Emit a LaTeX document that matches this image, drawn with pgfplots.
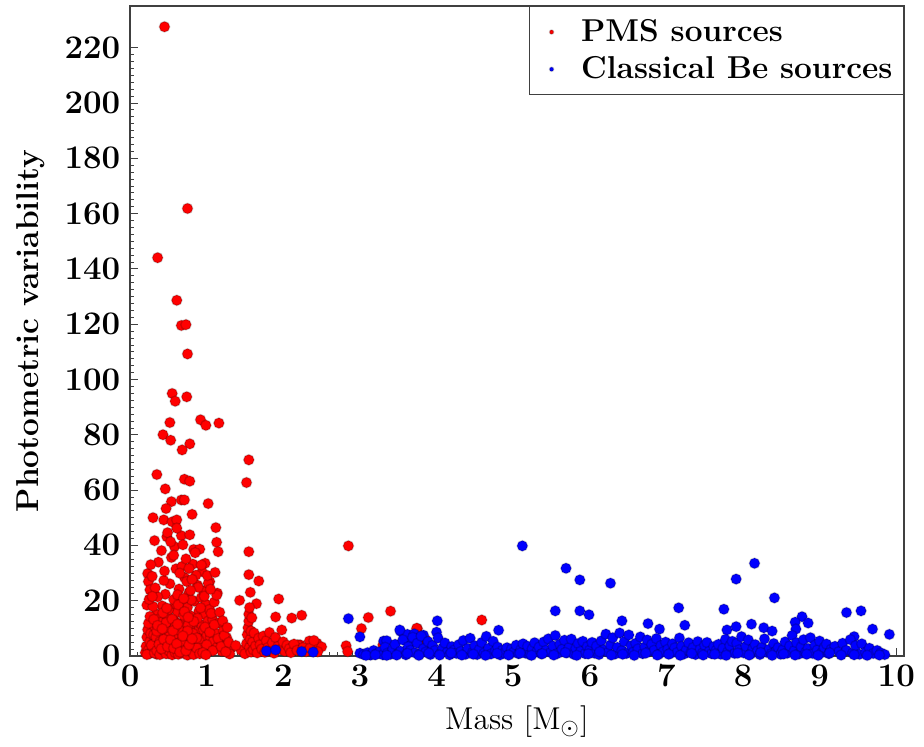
\documentclass[border=0pt]{standalone}
\usepackage{pgfplots}
\usepackage{pgfplotstable}
\pgfplotsset{compat=1.18}

\pgfplotstableread{
x y
0.45 227.5
0.75 161.8
0.36 144.0
0.61 128.6
0.67 119.5
0.73 119.8
0.75 109.2
0.55 94.9
0.59 92.1
0.74 93.7
0.52 84.4
0.92 85.4
0.99 83.4
1.16 84.2
0.43 80.0
0.53 78.0
0.78 76.7
0.68 74.5
1.55 70.9
1.52 62.7
0.35 65.6
0.71 63.9
0.78 63.2
0.46 60.4
0.54 55.8
0.47 53.3
0.67 56.4
0.71 56.4
1.02 55.1
0.30 50.0
0.44 49.2
0.55 48.5
0.61 49.2
0.81 51.2
1.12 46.4
0.67 43.5
0.78 43.8
0.32 41.7
0.48 43.1
1.13 41.1
1.15 37.7
1.55 37.7
0.58 39.5
0.83 38.5
0.91 38.6
0.98 33.5
0.94 30.5
1.04 26.9
0.23 29.8
0.24 26.9
0.26 23.9
1.55 29.4
1.68 27.1
1.43 20.1
1.65 18.9
1.94 20.6
1.90 14.1
0.22 18.4
1.14 22.7
1.32 2.8
2.85 39.8
2.11 13.7
2.24 14.7
3.11 13.9
3.40 16.2
3.02 9.9
3.75 9.9
3.74 10.0
2.82 3.7
2.84 1.6
2.34 5.4
2.44 4.6
2.50 3.3
2.22 4.0
2.19 4.0
4.59 13.0
3.86 5.8
3.30 4.0
3.85 3.5
4.75 3.0
4.60 1.5
5.90 3.0
6.05 4.5
6.10 3.8
0.20 1.2
0.21 3.5
0.22 6.8
0.23 9.5
0.24 2.1
0.25 0.8
0.26 5.2
0.27 8.1
0.28 12.3
0.29 1.5
0.30 4.4
0.31 7.6
0.32 10.8
0.33 2.9
0.34 15.2
0.35 0.6
0.36 3.8
0.37 6.1
0.38 9.2
0.39 13.5
0.40 1.9
0.41 4.9
0.42 18.1
0.43 7.3
0.44 11.4
0.45 2.4
0.46 22.3
0.47 5.6
0.48 8.7
0.49 14.6
0.50 0.9
0.51 3.2
0.52 26.1
0.53 10.1
0.54 17.2
0.55 6.4
0.56 1.6
0.57 20.4
0.58 12.8
0.59 4.1
0.60 31.5
0.61 8.3
0.62 15.9
0.63 2.6
0.64 24.2
0.65 6.9
0.66 11.7
0.67 1.1
0.68 19.3
0.69 4.6
0.70 9.8
0.71 28.4
0.72 13.9
0.73 3.3
0.74 7.5
0.75 17.6
0.76 1.8
0.77 22.9
0.78 5.1
0.79 10.6
0.80 14.4
0.81 2.3
0.82 33.2
0.83 7.9
0.84 19.8
0.85 4.2
0.86 12.2
0.87 1.4
0.88 25.6
0.89 8.8
0.90 16.3
0.91 3.6
0.92 6.2
0.93 21.1
0.94 11.1
0.95 2.0
0.96 9.4
0.97 14.9
0.98 4.8
0.99 18.7
1.00 7.1
1.01 1.3
1.02 12.6
1.03 3.9
1.04 16.8
1.05 6.6
1.06 9.9
1.07 2.5
1.08 13.1
1.09 5.4
1.10 19.5
1.12 8.2
1.14 3.1
1.16 11.9
1.18 5.9
1.20 1.7
1.22 9.1
1.24 4.3
1.26 6.7
1.28 2.2
1.30 0.7
0.22 0.5
0.24 11.8
0.26 14.3
0.28 3.9
0.30 17.9
0.32 1.1
0.34 6.8
0.36 21.4
0.38 2.7
0.40 12.1
0.42 5.3
0.44 27.3
0.46 9.6
0.48 1.3
0.50 16.7
0.52 4.5
0.54 35.6
0.56 12.4
0.58 7.7
0.60 2.1
0.62 22.1
0.64 9.3
0.66 3.7
0.68 32.4
0.70 14.7
0.72 6.0
0.74 26.9
0.76 11.2
0.78 3.0
0.80 20.3
0.82 8.1
0.84 1.0
0.86 29.2
0.88 13.6
0.90 5.7
0.92 17.4
0.94 2.8
0.96 23.5
0.98 10.4
1.00 4.0
1.02 26.3
1.04 8.6
1.06 15.4
1.08 1.9
1.10 11.3
1.13 22.0
1.15 6.3
1.17 15.8
1.19 3.4
1.21 12.7
1.23 7.4
1.25 1.5
1.27 10.3
1.29 4.9
0.25 20.5
0.29 28.8
0.33 24.6
0.37 33.9
0.41 38.1
0.45 30.7
0.49 44.6
0.53 41.3
0.57 36.4
0.61 46.2
0.65 29.9
0.69 40.2
0.73 35.1
0.77 31.6
0.81 27.7
0.85 37.3
0.89 24.8
0.93 32.9
0.97 21.6
1.01 29.1
1.05 24.1
1.11 30.2
0.35 1.9
0.39 0.5
0.43 2.2
0.47 0.8
0.51 1.8
0.55 0.4
0.59 1.2
0.63 0.6
0.67 2.4
0.71 0.9
0.75 0.3
0.79 1.6
0.83 0.5
0.87 2.9
0.91 0.8
0.95 1.2
0.99 0.4
0.31 13.2
0.35 9.0
0.39 5.1
0.43 15.6
0.47 12.0
0.51 7.0
0.55 13.3
0.59 10.5
0.63 18.5
0.67 5.4
0.71 16.0
0.75 9.0
0.79 23.7
0.83 12.5
0.87 6.5
0.38 4.2
0.41 2.6
0.44 6.0
0.49 3.4
0.53 5.9
0.57 2.8
0.61 4.4
0.65 1.4
0.69 7.2
0.73 1.9
0.77 4.0
0.81 6.2
0.36 11.0
0.42 9.8
0.48 17.3
0.56 9.1
0.62 11.5
0.70 20.8
0.76 14.0
0.29 21.5
0.27 33.0
1.45 2.0
1.50 0.8
1.52 4.5
1.53 7.7
1.54 10.2
1.55 12.6
1.55 15.1
1.56 3.1
1.56 17.5
1.57 6.1
1.57 23.0
1.58 1.4
1.58 9.0
1.59 13.8
1.60 5.0
1.61 2.2
1.62 8.3
1.64 3.6
1.66 1.1
1.68 6.4
1.70 4.1
1.72 2.5
1.74 7.2
1.76 1.3
1.78 5.5
1.80 3.0
1.82 8.5
1.84 2.0
1.86 4.8
1.88 1.0
1.90 6.7
1.93 3.4
1.96 2.3
1.98 9.4
2.00 5.1
2.02 1.7
2.05 3.9
2.08 2.6
2.10 1.2
2.14 4.3
2.18 2.0
2.26 3.0
2.30 1.6
2.35 2.8
2.40 5.6
2.45 1.5
1.38 3.8
}\pmsdata

\pgfplotstableread{
x y
2.85 13.5
3.00 6.9
3.53 8.9
3.31 5.4
5.12 39.8
5.69 31.7
5.87 27.5
6.27 26.3
5.55 16.3
5.87 16.3
5.99 14.9
4.01 12.7
4.81 9.3
6.42 12.7
6.76 11.7
6.91 9.7
8.15 33.5
7.91 27.8
8.41 21.0
7.16 17.4
7.75 16.9
9.35 15.7
9.54 16.3
7.24 11.1
9.69 9.7
9.91 7.8
8.11 11.5
8.27 10.2
8.38 9.0
8.77 14.2
8.68 12.2
8.85 11.9
8.69 9.7
7.79 9.4
7.91 10.6
9.45 7.0
1.78 1.8
1.90 2.2
2.24 1.6
2.39 1.4
3.00 1.0
3.62 7.8
3.68 5.0
3.71 8.0
3.76 6.2
3.83 7.5
3.88 4.0
3.35 5.5
3.52 9.4
3.05 0.5
3.10 1.2
3.14 0.3
3.18 2.0
3.22 0.8
3.26 1.5
3.30 0.4
3.33 3.1
3.36 1.0
3.40 0.6
3.43 2.4
3.46 4.2
3.50 0.9
3.53 1.7
3.56 5.8
3.60 0.4
3.63 3.3
3.66 2.0
3.69 6.7
3.72 1.1
3.75 4.6
3.78 0.7
3.80 7.2
3.83 2.6
3.86 1.4
3.89 5.2
3.92 0.5
3.95 3.8
3.98 1.9
4.00 8.6
4.02 6.5
4.05 0.8
4.08 2.9
4.11 4.7
4.14 1.3
4.17 0.4
4.20 3.4
4.23 2.1
4.26 0.9
4.29 4.1
4.32 1.6
4.35 5.6
4.38 0.6
4.41 2.7
4.44 6.4
4.47 1.2
4.50 3.7
4.53 0.5
4.56 2.3
4.59 4.9
4.62 1.0
4.65 7.1
4.68 2.8
4.71 0.7
4.74 5.3
4.77 1.8
4.80 3.2
4.83 0.4
4.86 2.0
4.89 1.1
4.92 3.0
4.95 0.6
4.98 2.5
5.01 1.4
5.04 3.9
5.07 0.8
5.10 2.2
5.13 4.4
5.16 1.0
5.19 3.5
5.22 0.5
5.25 2.6
5.28 4.8
5.31 1.5
5.34 3.2
5.37 0.7
5.40 5.1
5.43 2.0
5.46 6.2
5.49 1.2
5.52 3.6
5.55 7.4
5.58 0.9
5.61 4.3
5.64 2.4
5.67 5.7
5.70 1.1
5.73 3.0
5.76 6.1
5.79 0.6
5.82 2.7
5.85 4.5
5.88 1.6
5.91 5.3
5.94 0.8
5.97 3.4
6.00 2.1
6.03 4.9
6.06 1.0
6.09 3.6
6.12 0.5
6.15 5.5
6.18 2.2
6.21 7.9
6.24 1.3
6.27 4.0
6.30 6.6
6.33 0.7
6.36 3.1
6.39 8.3
6.42 1.9
6.45 5.2
6.48 0.9
6.51 7.6
6.54 3.7
6.57 1.4
6.60 4.6
6.63 2.5
6.66 6.9
6.69 0.8
6.72 3.3
6.75 5.8
6.78 1.7
6.81 4.2
6.84 2.0
6.87 6.3
6.90 0.6
6.93 3.8
6.96 1.5
6.99 5.0
7.02 2.4
7.05 0.9
7.08 4.4
7.11 2.9
7.14 1.2
7.17 6.5
7.20 3.5
7.23 0.7
7.26 2.1
7.29 4.8
7.32 1.3
7.35 3.0
7.38 0.5
7.41 5.2
7.44 2.3
7.47 1.0
7.50 3.9
7.53 4.9
7.56 1.6
7.59 0.8
7.62 3.4
7.65 2.0
7.68 4.2
7.71 0.6
7.74 2.8
7.77 6.0
7.80 1.4
7.83 3.7
7.86 5.3
7.89 0.9
7.92 4.6
7.95 2.2
7.98 7.0
8.01 1.1
8.04 3.5
8.07 5.8
8.10 0.7
8.13 2.6
8.16 4.1
8.19 1.8
8.22 0.5
8.25 3.2
8.28 6.2
8.31 1.3
8.34 2.4
8.37 0.8
8.40 4.5
8.43 1.6
8.46 3.0
8.49 0.6
8.52 2.2
8.55 5.1
8.58 1.0
8.61 3.6
8.64 7.4
8.67 1.9
8.70 4.8
8.73 0.7
8.76 3.3
8.79 5.9
8.82 1.4
8.85 2.7
8.88 6.6
8.91 0.9
8.94 3.9
8.97 2.1
9.00 5.4
9.03 1.2
9.06 3.0
9.09 4.3
9.12 0.8
9.15 2.4
9.20 3.5
9.25 1.5
9.30 4.6
9.35 2.0
9.40 5.9
9.43 1.0
9.47 3.7
9.52 0.6
9.55 4.4
9.60 1.3
9.65 2.8
9.70 0.9
9.75 2.0
9.80 1.1
9.85 0.5
3.08 0.2
3.20 0.4
3.35 0.2
3.48 0.3
3.62 0.9
3.77 0.2
3.90 1.0
4.04 0.3
4.19 1.1
4.33 0.3
4.48 0.6
4.64 0.2
4.79 0.9
4.94 0.3
5.09 1.0
5.24 0.2
5.38 0.8
5.53 0.3
5.68 1.2
5.83 0.2
5.98 0.7
6.13 1.5
6.28 0.3
6.43 0.6
6.58 0.2
6.73 1.0
6.88 0.3
7.03 0.6
7.18 0.2
7.33 0.9
7.48 0.3
7.63 0.6
7.78 0.2
7.93 1.0
8.08 0.3
8.23 1.2
8.38 0.2
8.53 0.7
8.68 0.3
8.83 0.6
8.98 0.2
9.13 1.1
9.28 0.3
9.45 0.4
9.62 0.2
9.78 0.3
}\bedata

\begin{document}
\begin{tikzpicture}
\begin{axis}[
  scale only axis,
  width=281.5pt, height=236.4pt,
  xmin=0, xmax=10.1, ymin=0, ymax=235,
  xtick={0,1,...,10}, ytick={0,20,...,220},
  minor x tick num=9, minor y tick num=7,
  xtick pos=left, ytick pos=left,
  major tick length=3pt, minor tick length=1.5pt,
  axis line style={black!75, line width=0.5pt},
  tick style={black!75},
  tick label style={font=\fontsize{11.5}{13.8}\selectfont\boldmath},
  xlabel={Mass [M$_\odot$]},
  ylabel={\bfseries Photometric variability},
  label style={font=\fontsize{11.5}{13.8}\selectfont},
  xlabel style={at={(axis description cs:0.5,0)}, anchor=base, yshift=-26.9pt},
  ylabel style={at={(axis description cs:-0.129,0.5)}, anchor=center},
  legend style={at={(1,1)}, anchor=north east,
    font=\fontsize{11.5}{13.8}\selectfont\bfseries,
    draw=black!75, row sep=0pt, inner xsep=2pt, inner ysep=2.5pt},
  legend cell align=left,
  legend image code/.code={%
    \path (0cm,0cm) (0.5cm,0cm);
    \draw[#1, mark size=0.75pt] plot coordinates {(0.2cm,0cm)};},
]
\addplot[only marks, mark=*, mark size=1.9pt,
  mark options={fill=red, draw=black, draw opacity=0.18, line width=0.5pt}]
  table[x=x, y=y] {\pmsdata};
\addlegendentry{PMS sources}
\addplot[only marks, mark=*, mark size=1.9pt,
  mark options={fill=blue, draw=black, draw opacity=0.18, line width=0.5pt}]
  table[x=x, y=y] {\bedata};
\addlegendentry{Classical Be sources}
\end{axis}
\path (current axis.south west) ++(-47.3pt,-31.3pt);
\path (current axis.north east) ++(7.3pt,2.2pt);
\end{tikzpicture}
\end{document}
